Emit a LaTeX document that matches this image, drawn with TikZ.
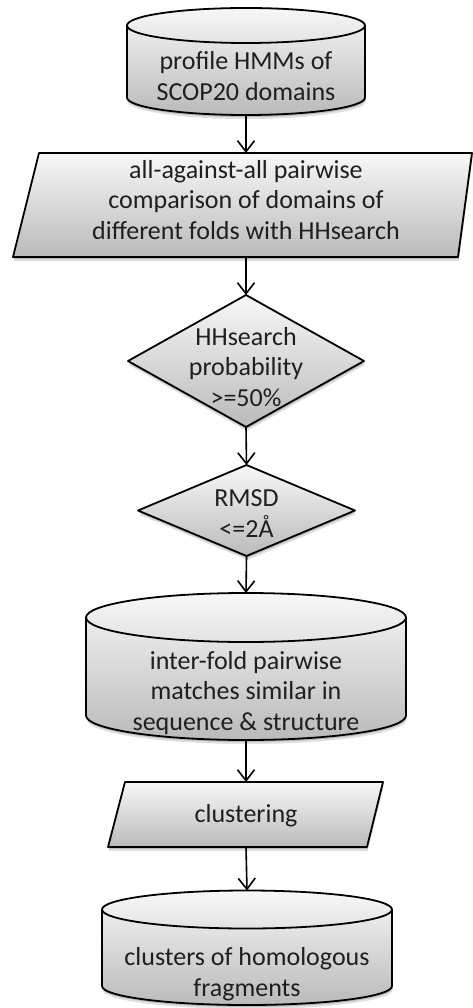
\documentclass[tikz,border=0pt]{standalone}
\usepackage{fontspec}
\setmainfont{Carlito}
\usetikzlibrary{arrows.meta,shadows}
\begin{document}
\begin{tikzpicture}[x=1pt,y=1pt,
  shp/.style={draw=black, line width=1.8pt, line join=round, top color=black!3, bottom color=black!27,
    drop shadow={shadow xshift=0.8pt, shadow yshift=-4pt, opacity=0.12, fill=black},
    drop shadow={shadow xshift=0.5pt, shadow yshift=-2pt, opacity=0.18, fill=black}},
  rim/.style={draw=black, line width=1.8pt},
  lbl/.style={font=\fontsize{26}{30.5}\selectfont, text=black!88, align=center, inner sep=0pt},
  arr/.style={line width=1.6pt, -{Straight Barb[length=11pt,width=17pt,line width=1.6pt]}},
]
\useasboundingbox (0,0) rectangle (473,-1008);
% cylinder 1
\path[shp] (127,-25.5) arc[start angle=180,end angle=0,x radius=119,y radius=17.5]
  -- (365,-97.5) arc[start angle=0,end angle=-180,x radius=119,y radius=17.5] -- cycle;
\draw[rim] (127,-25.5) arc[start angle=180,end angle=360,x radius=119,y radius=17.5];
\node[lbl] (c1) at (246,-76) {profile HMMs of\\SCOP20 domains};
\coordinate (c1s) at (246,-115);
% parallelogram 1
\path[shp] (39,-153) -- (472,-153) -- (458,-257) -- (13,-257) -- cycle;
\node[lbl] (p1) at (246,-200) {all-against-all pairwise\\comparison of domains of\\different folds with HHsearch};
\coordinate (p1n) at (246,-153);
\coordinate (p1s) at (246,-257);
% diamond 1
\path[shp] (246,-295) -- (364,-361) -- (246,-427) -- (128,-361) -- cycle;
\node[lbl] (d1) at (246,-367) {HHsearch\\probability\\>=50\%};
\coordinate (d1n) at (246,-295);
\coordinate (d1s) at (246,-427);
% diamond 2
\path[shp] (246.5,-465) -- (355,-510.5) -- (246.5,-556) -- (138,-510.5) -- cycle;
\node[lbl] (d2) at (246.5,-513.5) {RMSD\\<=2Å};
\coordinate (d2n) at (246.5,-465);
\coordinate (d2s) at (246.5,-556);
% cylinder 2
\path[shp] (86,-617.5) arc[start angle=180,end angle=0,x radius=160,y radius=24.5]
  -- (406,-715.5) arc[start angle=0,end angle=-180,x radius=160,y radius=24.5] -- cycle;
\draw[rim] (86,-617.5) arc[start angle=180,end angle=360,x radius=160,y radius=24.5];
\node[lbl] (c2) at (246,-693) {inter-fold pairwise\\matches similar in\\sequence \& structure};
\coordinate (c2n) at (246,-593);
\coordinate (c2s) at (246,-740);
% parallelogram 2
\path[shp] (125,-782) -- (383,-782) -- (367,-847) -- (108,-847) -- cycle;
\node[lbl] (p2) at (246,-816) {clustering};
\coordinate (p2n) at (246,-782);
\coordinate (p2s) at (246,-847);
% cylinder 3
\path[shp] (102,-909.5) arc[start angle=180,end angle=0,x radius=145,y radius=19]
  -- (392,-986) arc[start angle=0,end angle=-180,x radius=145,y radius=19] -- cycle;
\draw[rim] (102,-909.5) arc[start angle=180,end angle=360,x radius=145,y radius=19];
\node[lbl] (c3) at (247,-974) {clusters of homologous\\fragments};
\coordinate (c3n) at (247,-890.5);
% arrows
\draw[arr] (c1s) -- (p1n);
\draw[arr] (p1s) -- (d1n);
\draw[arr] (d1s) -- (d2n);
\draw[arr] (d2s) -- (c2n);
\draw[arr] (c2s) -- (p2n);
\draw[arr] (p2s) -- (c3n);
\end{tikzpicture}
\end{document}
